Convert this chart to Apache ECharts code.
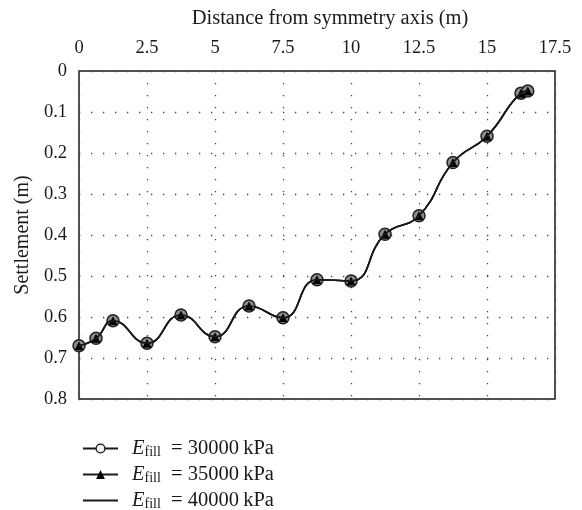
<!DOCTYPE html>
<html>
<head>
<meta charset="utf-8">
<script src="https://cdn.jsdelivr.net/npm/echarts@6/dist/echarts.min.js"></script>
<style>
  html, body { margin: 0; padding: 0; background: #fff; }
  #chart { width: 582px; height: 510px; }
</style>
</head>
<body>
<div id="chart"></div>
<script>
// Horizontal distance of each computed point from the embankment symmetry axis (m)
const distance = [0, 0.625, 1.25, 2.5, 3.75, 5, 6.25, 7.5, 8.75, 10, 11.25, 12.5, 13.75, 15, 16.25, 16.5];

// Settlement (m) for each fill modulus; the three curves coincide
const settle30000 = [0.670, 0.652, 0.609, 0.664, 0.595, 0.648, 0.573, 0.602, 0.509, 0.512, 0.398, 0.353, 0.223, 0.159, 0.054, 0.049];
const settle35000 = [0.670, 0.652, 0.609, 0.664, 0.595, 0.648, 0.573, 0.602, 0.509, 0.512, 0.398, 0.353, 0.223, 0.159, 0.054, 0.049];
const settle40000 = [0.670, 0.652, 0.609, 0.664, 0.595, 0.648, 0.573, 0.602, 0.509, 0.512, 0.398, 0.353, 0.223, 0.159, 0.054, 0.049];

// Fill moduli (kPa) used in the legend
const moduli = [30000, 35000, 40000];

// Axis ticks
const xTicks = [0, 2.5, 5, 7.5, 10, 12.5, 15, 17.5];
const yTicks = [0, 0.1, 0.2, 0.3, 0.4, 0.5, 0.6, 0.7, 0.8];

const FONT = '"Liberation Serif", "Times New Roman", serif';
const INK = '#1a1a1a';

const pairs = arr => distance.map((d, i) => [d, arr[i]]);
const names = moduli.map(m => 'E_fill = ' + m + ' kPa');

const chart = echarts.init(document.getElementById('chart'), null, { renderer: 'canvas' });

const lineBase = {
  type: 'line',
  smooth: 0.5,
  lineStyle: { color: INK, width: 1.6 },
  animation: false
};

// One single-entry legend per row so the rows stack below the plot
const legendTextStyle = {
  fontFamily: FONT, fontSize: 20.5, color: INK,
  padding: [0, 0, 0, 9],
  rich: {
    e: { fontFamily: FONT, fontSize: 20.5, fontStyle: 'italic', color: INK },
    s: { fontFamily: FONT, fontSize: 14, color: INK, padding: [8, 0, 0, 0] },
    t: { fontFamily: FONT, fontSize: 20.5, color: INK }
  }
};
const legendFormatter = name => {
  const m = name.match(/= (\d+)/)[1];
  return '{e|E}{s|fill}{t|  = ' + m + '\u2009kPa}';
};
const legendRowTops = [433, 459, 485];
const legendItemExtras = [
  { itemStyle: { color: '#f2f2f2', borderColor: '#111', borderWidth: 1.3 } },
  {},
  { itemStyle: { opacity: 0 } }
];
const legends = names.map((n, i) => ({
  orient: 'vertical',
  left: 77, top: legendRowTops[i],
  itemWidth: 35, itemHeight: 11,
  data: [Object.assign({ name: n }, legendItemExtras[i])],
  formatter: legendFormatter,
  textStyle: legendTextStyle,
  selectedMode: false
}));

chart.setOption({
  backgroundColor: '#fff',
  grid: {
    left: 79, top: 71, right: 27, bottom: 111,
    show: true, borderColor: INK, borderWidth: 1.5, backgroundColor: 'transparent'
  },
  xAxis: {
    type: 'value',
    position: 'top',
    min: xTicks[0], max: xTicks[xTicks.length - 1], interval: 2.5,
    name: 'Distance from symmetry axis (m)',
    nameLocation: 'middle',
    nameGap: 42,
    nameTextStyle: { fontFamily: FONT, fontSize: 20.5, color: INK, padding: [0, 0, 0, 26] },
    axisLine: { show: false },
    axisTick: { show: false },
    axisLabel: { fontFamily: FONT, fontSize: 18.5, color: INK, margin: 13 },
    splitLine: { show: true, lineStyle: { color: '#444', width: 1.3, type: [1.3, 10.7] } }
  },
  yAxis: {
    type: 'value',
    inverse: true,
    min: yTicks[0], max: yTicks[yTicks.length - 1], interval: 0.1,
    name: 'Settlement (m)',
    nameLocation: 'middle',
    nameGap: 46,
    nameTextStyle: { fontFamily: FONT, fontSize: 20, color: INK },
    axisLine: { show: false },
    axisTick: { show: false },
    axisLabel: { fontFamily: FONT, fontSize: 18.5, color: INK, margin: 12 },
    splitLine: { show: true, lineStyle: { color: '#444', width: 1.3, type: [1.3, 10.7] } }
  },
  legend: legends,
  series: [
    Object.assign({}, lineBase, {
      name: names[0],
      data: pairs(settle30000),
      symbol: 'circle', symbolSize: 12,
      itemStyle: { color: '#8c8c8c', borderColor: '#222', borderWidth: 1.5 },
      z: 2
    }),
    Object.assign({}, lineBase, {
      name: names[1],
      data: pairs(settle35000),
      symbol: 'triangle', symbolSize: 9,
      itemStyle: { color: '#000', borderColor: '#000', borderWidth: 0 },
      z: 3
    }),
    Object.assign({}, lineBase, {
      name: names[2],
      data: pairs(settle40000),
      symbol: 'none',
      itemStyle: { color: INK },
      z: 4
    })
  ]
});
</script>
</body>
</html>
